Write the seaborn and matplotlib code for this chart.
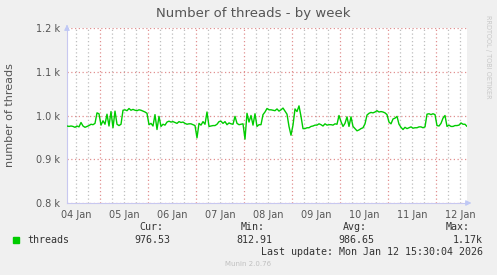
import numpy as np
import pandas as pd
import matplotlib
matplotlib.use("Agg")
import matplotlib.pyplot as plt
import matplotlib.dates as mdates
from matplotlib.ticker import FuncFormatter, FixedLocator
import seaborn as sns

# ---- data (hourly samples) ----
start_time = "2026-01-04 07:30"
seg1 = [976, 975, 976, 975, 973, 976, 974, 984, 976, 973, 975, 977, 980, 979, 982,
        1006, 1004, 978, 988, 980, 1003, 976, 1009, 972, 1010, 980, 977, 980, 1012, 1013,
        1011, 1016, 1012, 1014, 1012, 1011, 1013, 1012, 1010, 1008, 1005, 979, 982, 976,
        1002, 968, 998, 975, 980, 978, 985]
seg2 = [987, 985, 986, 984, 982, 986, 984, 985, 982, 980, 981, 981, 979, 977, 949,
        982, 978, 986, 980, 1008, 975, 976, 977, 977, 980, 986, 987, 982, 986, 979,
        983, 981, 980, 998, 982, 979, 980, 981, 946, 1005, 985, 1000, 978, 1004, 975,
        979, 979, 1002, 1008, 1016]
seg3 = [1013, 1013, 1012, 1011, 1015, 1010, 1013, 1017, 1010, 1003, 975, 955, 978,
        1015, 1009, 1022, 998, 970, 970, 972, 972, 975, 976, 978, 978, 981, 979, 976,
        981, 978, 979, 979, 978, 981, 980, 1000, 986, 975, 982, 997, 975, 997, 975,
        970, 965, 967, 970, 972, 981, 1001]
seg4 = [1005, 1007, 1006, 1008, 1011, 1008, 1009, 1008, 1006, 1002, 985, 981, 992,
        994, 998, 980, 973, 968, 973, 970, 972, 974, 971, 972, 972, 974, 974, 972,
        974, 1003, 1004, 1002, 1004, 1002, 977, 976, 982, 994, 1000, 975, 978, 975,
        975, 977, 977, 978, 983, 980, 980, 975]
threads = seg1 + seg2 + seg3 + seg4
times = pd.date_range(start_time, periods=len(threads), freq="h")

y_ticks = [800, 900, 1000, 1100, 1200]
y_tick_labels = ["0.8 k", "0.9 k", "1.0 k", "1.1 k", "1.2 k"]

title = "Number of threads - by week"
ylabel = "number of threads"
series_name = "threads"
stat_names = ["Cur:", "Min:", "Avg:", "Max:"]
stat_values = ["976.53", "812.91", "986.65", "1.17k"]
last_update = "Last update: Mon Jan 12 15:30:04 2026"
footer = "Munin 2.0.76"
side_text = "RRDTOOL / TOBI OETIKER"

df = pd.DataFrame({"time": times, "threads": threads})

# ---- style ----
sns.set_theme(style="white")
plt.rcParams["font.family"] = ["DejaVu Sans"]

W, H = 497, 275
fig = plt.figure(figsize=(W / 100, H / 100), dpi=100, facecolor="#F0F0F0")
ax = fig.add_axes([67 / W, 72 / H, 400 / W, 175 / H], facecolor="white")

sns.lineplot(data=df, x="time", y="threads", ax=ax, color="#00CC00",
             linewidth=1.0, legend=False, zorder=5)

t0 = pd.Timestamp(start_time)
t1 = t0 + pd.Timedelta(hours=200)
ax.set_xlim(t0, t1)
ax.set_ylim(800, 1200)

# y axis
ax.yaxis.set_major_locator(FixedLocator(y_ticks))
ax.set_yticklabels(y_tick_labels)
ax.tick_params(axis="y", which="major", length=0, pad=5, labelsize=7,
               labelcolor="#555555")

# x axis: midnight majors (red), 6h minors (grey), labels at noon
ax.xaxis.set_major_locator(mdates.DayLocator())
ax.xaxis.set_major_formatter(FuncFormatter(lambda v, p: ""))
ax.xaxis.set_minor_locator(mdates.HourLocator(byhour=[6, 12, 18]))

def minor_fmt(v, pos):
    d = mdates.num2date(v)
    return d.strftime("%d %b") if d.hour == 12 else ""

ax.xaxis.set_minor_formatter(FuncFormatter(minor_fmt))
ax.tick_params(axis="x", which="major", length=3, direction="inout",
               color="#E08080", width=0.8, labelsize=7, pad=4)
ax.tick_params(axis="x", which="minor", length=2, direction="inout",
               color="#BBBBBB", width=0.8, labelsize=7, pad=4,
               labelcolor="#555555")

ax.grid(False)
ax.yaxis.grid(True, which="major", color="#E09090", linestyle=(0, (1, 2)),
              linewidth=0.9)
ax.xaxis.grid(True, which="major", color="#E09090", linestyle=(0, (1, 2)),
              linewidth=0.9)
ax.xaxis.grid(True, which="minor", color="#BEBEBE", linestyle=(0, (1, 2)),
              linewidth=0.9)
ax.set_axisbelow(True)

ax.set_xlabel("")
ax.set_ylabel("")
for s in ["top", "right"]:
    ax.spines[s].set_visible(False)
ax.spines["left"].set_color("#C8C8F0")
ax.spines["bottom"].set_color("#C8C8F0")
ax.spines["left"].set_linewidth(0.8)
ax.spines["bottom"].set_linewidth(0.8)

# axis arrows
ax.annotate("", xy=(0, 1.035), xytext=(0, 0.99), xycoords="axes fraction",
            arrowprops=dict(arrowstyle="-|>", color="#BFC8F5", lw=0.8,
                            mutation_scale=8), annotation_clip=False)
ax.annotate("", xy=(1.018, 0), xytext=(0.99, 0), xycoords="axes fraction",
            arrowprops=dict(arrowstyle="-|>", color="#BFC8F5", lw=0.8,
                            mutation_scale=8), annotation_clip=False)

# titles
fig.text(253 / W, 1 - 14 / H, title, ha="center", va="center", fontsize=9.5,
         color="#555555")
fig.text(10 / W, 1 - 115 / H, ylabel, ha="center", va="center", rotation=90,
         fontsize=8, color="#555555")
fig.text(488 / W, 1 - 57 / H, side_text, ha="center", va="center", rotation=270,
         fontsize=4.7, color="#C8C8C8")

# legend block
mono = "DejaVu Sans Mono"
fig.patches.append(plt.Rectangle((13 / W, 1 - 243 / H), 6 / W, 6 / H,
                                 transform=fig.transFigure, color="#00CC00"))
fig.text(27 / W, 1 - 240 / H, series_name, ha="left", va="center", family=mono,
         fontsize=7.2, color="#333333")
name_x = [163, 265, 367, 470]
val_x = [170, 272, 374, 483]
for nm, vl, nx, vx in zip(stat_names, stat_values, name_x, val_x):
    fig.text(nx / W, 1 - 227 / H, nm, ha="right", va="center", family=mono,
             fontsize=7.2, color="#333333")
    fig.text(vx / W, 1 - 240 / H, vl, ha="right", va="center", family=mono,
             fontsize=7.2, color="#333333")
fig.text(483 / W, 1 - 252 / H, last_update, ha="right", va="center",
         family=mono, fontsize=7.2, color="#333333")
fig.text(248 / W, 1 - 264 / H, footer, ha="center", va="center", fontsize=5,
         color="#C0C0C0")

fig.savefig("out.png", dpi=100, facecolor=fig.get_facecolor())
